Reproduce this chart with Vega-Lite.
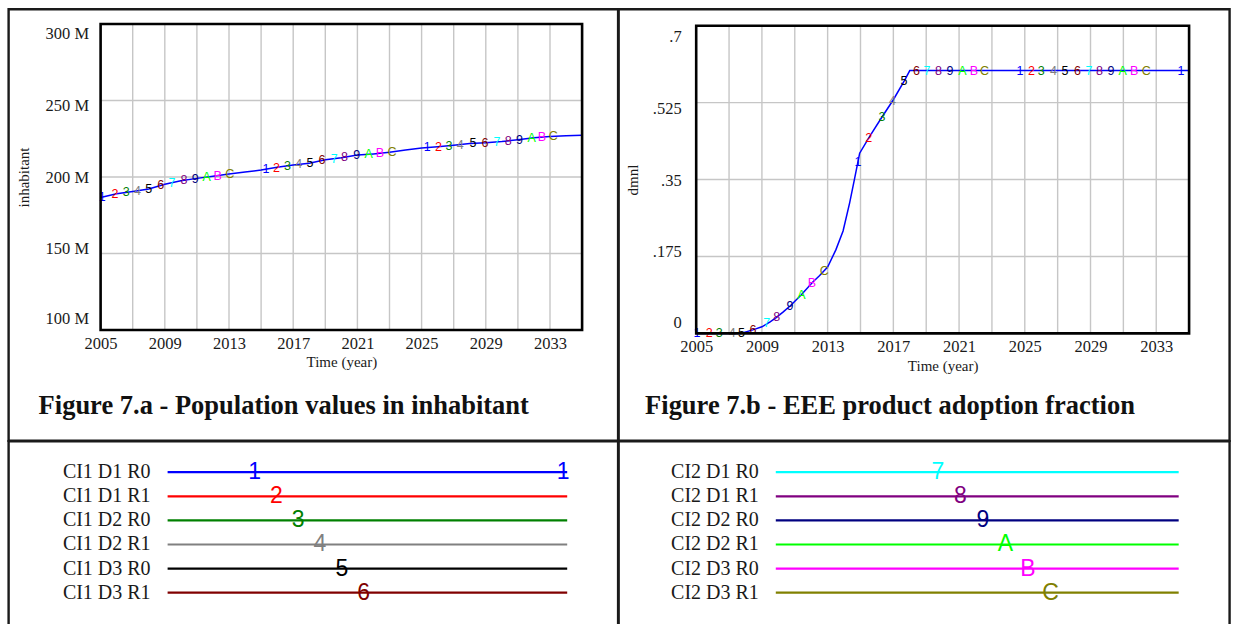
{
  "$schema": "https://vega.github.io/schema/vega-lite/v6.json",
  "background": "white",
  "padding": {"left": 6.6, "top": 7.2, "right": 4, "bottom": 0},
  "columns": 2,
  "spacing": 0,
  "bounds": "flush",
  "config": {
    "view": {"stroke": "#1a1a1a", "strokeWidth": 2.4},
    "font": "Liberation Serif",
    "axis": {
      "labelFont": "Liberation Serif", "labelFontSize": 16.5, "labelColor": "#1a1a1a",
      "titleFont": "Liberation Serif", "titleFontSize": 15, "titleFontWeight": "normal", "titleColor": "#1a1a1a",
      "grid": false, "ticks": false, "domain": false, "labelFlush": false, "labelOverlap": false
    }
  },
  "datasets": {
    "population": [
      {"year": 2005, "population": 186600000}, {"year": 2006, "population": 189000000},
      {"year": 2007, "population": 190500000}, {"year": 2008, "population": 192200000},
      {"year": 2009, "population": 195200000}, {"year": 2010, "population": 197600000},
      {"year": 2011, "population": 199100000}, {"year": 2012, "population": 200500000},
      {"year": 2013, "population": 202000000}, {"year": 2014, "population": 203300000},
      {"year": 2015, "population": 204500000}, {"year": 2016, "population": 206300000},
      {"year": 2017, "population": 207800000}, {"year": 2018, "population": 209000000},
      {"year": 2019, "population": 211200000}, {"year": 2020, "population": 212600000},
      {"year": 2021, "population": 214300000}, {"year": 2022, "population": 215100000},
      {"year": 2023, "population": 216100000}, {"year": 2024, "population": 217700000},
      {"year": 2025, "population": 219000000}, {"year": 2026, "population": 219800000},
      {"year": 2027, "population": 220800000}, {"year": 2028, "population": 221900000},
      {"year": 2029, "population": 222400000}, {"year": 2030, "population": 223200000},
      {"year": 2031, "population": 224300000}, {"year": 2032, "population": 225600000},
      {"year": 2033, "population": 226400000}, {"year": 2034, "population": 226900000},
      {"year": 2035, "population": 227300000}
    ],
    "populationMarkers": [
      {"code": "1", "year": 2005.1, "population": 186800000},
      {"code": "2", "year": 2005.9, "population": 188800000},
      {"code": "3", "year": 2006.6, "population": 189900000},
      {"code": "4", "year": 2007.3, "population": 191000000},
      {"code": "5", "year": 2008.0, "population": 192200000},
      {"code": "6", "year": 2008.75, "population": 194500000},
      {"code": "7", "year": 2009.45, "population": 196300000},
      {"code": "8", "year": 2010.2, "population": 197900000},
      {"code": "9", "year": 2010.9, "population": 198900000},
      {"code": "A", "year": 2011.6, "population": 199900000},
      {"code": "B", "year": 2012.3, "population": 200900000},
      {"code": "C", "year": 2013.05, "population": 202100000},
      {"code": "1", "year": 2015.3, "population": 205000000},
      {"code": "2", "year": 2015.95, "population": 206200000},
      {"code": "3", "year": 2016.65, "population": 207300000},
      {"code": "4", "year": 2017.35, "population": 208200000},
      {"code": "5", "year": 2018.05, "population": 209100000},
      {"code": "6", "year": 2018.8, "population": 210800000},
      {"code": "7", "year": 2019.55, "population": 212000000},
      {"code": "8", "year": 2020.2, "population": 212900000},
      {"code": "9", "year": 2020.95, "population": 214200000},
      {"code": "A", "year": 2021.7, "population": 214900000},
      {"code": "B", "year": 2022.4, "population": 215500000},
      {"code": "C", "year": 2023.15, "population": 216300000},
      {"code": "1", "year": 2025.35, "population": 219300000},
      {"code": "2", "year": 2026.05, "population": 219800000},
      {"code": "3", "year": 2026.7, "population": 220500000},
      {"code": "4", "year": 2027.4, "population": 221200000},
      {"code": "5", "year": 2028.2, "population": 222000000},
      {"code": "6", "year": 2028.95, "population": 222400000},
      {"code": "7", "year": 2029.7, "population": 222900000},
      {"code": "8", "year": 2030.4, "population": 223600000},
      {"code": "9", "year": 2031.1, "population": 224400000},
      {"code": "A", "year": 2031.85, "population": 225400000},
      {"code": "B", "year": 2032.5, "population": 226000000},
      {"code": "C", "year": 2033.2, "population": 226500000}
    ],
    "adoption": [
      {"year": 2005, "fraction": 0}, {"year": 2006, "fraction": 0}, {"year": 2007, "fraction": 0},
      {"year": 2007.7, "fraction": 0}, {"year": 2008.45, "fraction": 0.008}, {"year": 2009, "fraction": 0.015},
      {"year": 2009.5, "fraction": 0.026}, {"year": 2009.87, "fraction": 0.036}, {"year": 2010.3, "fraction": 0.049},
      {"year": 2010.73, "fraction": 0.063}, {"year": 2011.4, "fraction": 0.088}, {"year": 2012.07, "fraction": 0.116},
      {"year": 2012.5, "fraction": 0.131}, {"year": 2013.0, "fraction": 0.151}, {"year": 2013.5, "fraction": 0.19},
      {"year": 2013.94, "fraction": 0.233}, {"year": 2014.34, "fraction": 0.297}, {"year": 2014.65, "fraction": 0.354},
      {"year": 2014.95, "fraction": 0.41}, {"year": 2015.56, "fraction": 0.448}, {"year": 2016.27, "fraction": 0.49},
      {"year": 2016.99, "fraction": 0.531}, {"year": 2017.7, "fraction": 0.577}, {"year": 2018.0, "fraction": 0.598},
      {"year": 2035, "fraction": 0.598}
    ],
    "adoptionMarkers": [
      {"code": "1", "year": 2005.05, "fraction": 0},
      {"code": "2", "year": 2005.8, "fraction": 0},
      {"code": "3", "year": 2006.4, "fraction": 0},
      {"code": "4", "year": 2007.2, "fraction": 0},
      {"code": "5", "year": 2007.75, "fraction": 0},
      {"code": "6", "year": 2008.45, "fraction": 0.008},
      {"code": "7", "year": 2009.3, "fraction": 0.024},
      {"code": "8", "year": 2009.9, "fraction": 0.037},
      {"code": "9", "year": 2010.7, "fraction": 0.062},
      {"code": "A", "year": 2011.4, "fraction": 0.088},
      {"code": "B", "year": 2012.05, "fraction": 0.115},
      {"code": "C", "year": 2012.8, "fraction": 0.143},
      {"code": "1", "year": 2014.85, "fraction": 0.39},
      {"code": "2", "year": 2015.5, "fraction": 0.444},
      {"code": "3", "year": 2016.3, "fraction": 0.492},
      {"code": "4", "year": 2016.95, "fraction": 0.529},
      {"code": "5", "year": 2017.65, "fraction": 0.574},
      {"code": "6", "year": 2018.4, "fraction": 0.598},
      {"code": "7", "year": 2019.05, "fraction": 0.598},
      {"code": "8", "year": 2019.75, "fraction": 0.598},
      {"code": "9", "year": 2020.45, "fraction": 0.598},
      {"code": "A", "year": 2021.2, "fraction": 0.598},
      {"code": "B", "year": 2021.9, "fraction": 0.598},
      {"code": "C", "year": 2022.55, "fraction": 0.598},
      {"code": "1", "year": 2024.7, "fraction": 0.598},
      {"code": "2", "year": 2025.4, "fraction": 0.598},
      {"code": "3", "year": 2026.0, "fraction": 0.598},
      {"code": "4", "year": 2026.75, "fraction": 0.598},
      {"code": "5", "year": 2027.45, "fraction": 0.598},
      {"code": "6", "year": 2028.2, "fraction": 0.598},
      {"code": "7", "year": 2028.9, "fraction": 0.598},
      {"code": "8", "year": 2029.55, "fraction": 0.598},
      {"code": "9", "year": 2030.25, "fraction": 0.598},
      {"code": "A", "year": 2030.95, "fraction": 0.598},
      {"code": "B", "year": 2031.65, "fraction": 0.598},
      {"code": "C", "year": 2032.4, "fraction": 0.598},
      {"code": "1", "year": 2034.5, "fraction": 0.598}
    ],
    "gridYears": [
      {"year": 2007}, {"year": 2009}, {"year": 2011}, {"year": 2013}, {"year": 2015}, {"year": 2017}, {"year": 2019},
      {"year": 2021}, {"year": 2023}, {"year": 2025}, {"year": 2027}, {"year": 2029}, {"year": 2031}, {"year": 2033}
    ],
    "legendLeft": [
      {"series": "CI1 D1 R0", "code": "1", "n": 1},
      {"series": "CI1 D1 R1", "code": "2", "n": 2},
      {"series": "CI1 D2 R0", "code": "3", "n": 3},
      {"series": "CI1 D2 R1", "code": "4", "n": 4},
      {"series": "CI1 D3 R0", "code": "5", "n": 5},
      {"series": "CI1 D3 R1", "code": "6", "n": 6}
    ],
    "legendRight": [
      {"series": "CI2 D1 R0", "code": "7", "n": 7},
      {"series": "CI2 D1 R1", "code": "8", "n": 8},
      {"series": "CI2 D2 R0", "code": "9", "n": 9},
      {"series": "CI2 D2 R1", "code": "A", "n": 10},
      {"series": "CI2 D3 R0", "code": "B", "n": 11},
      {"series": "CI2 D3 R1", "code": "C", "n": 12}
    ]
  },
  "concat": [
    {
      "width": 609.5,
      "height": 431.5,
      "title": {"text": "Figure 7.a - Population values in inhabitant", "orient": "bottom", "anchor": "start", "frame": "group", "offset": -26.7, "dx": 30, "baseline": "alphabetic", "font": "Liberation Serif", "fontSize": 26.5, "fontWeight": "bold", "color": "#111111"},
      "layer": [
        {
          "data": {"name": "gridYears"},
          "mark": {"type": "rule", "color": "#c6c6c6", "strokeWidth": 1.4},
          "encoding": {
            "x": {"field": "year", "type": "quantitative"},
            "y": {"datum": 100000000, "type": "quantitative"}, "y2": {"datum": 300000000}
          }
        },
        {
          "data": {"values": [{"population": 150000000}, {"population": 200000000}, {"population": 250000000}]},
          "mark": {"type": "rule", "color": "#c6c6c6", "strokeWidth": 1.4},
          "encoding": {
            "y": {"field": "population", "type": "quantitative"},
            "x": {"datum": 2005, "type": "quantitative"}, "x2": {"datum": 2035}
          }
        },
        {
          "data": {"name": "population"},
          "mark": {"type": "line", "color": "#0000ff", "strokeWidth": 1.5},
          "encoding": {
            "x": {"field": "year", "type": "quantitative", "title": "Time (year)",
              "scale": {"domain": [2005, 2035], "range": [92, 573.5], "nice": false, "zero": false},
              "axis": {"values": [2005, 2007, 2009, 2011, 2013, 2015, 2017, 2019, 2021, 2023, 2025, 2027, 2029, 2031, 2033, 2035], "format": "d",
                "labelExpr": "(datum.value - 2005) % 4 == 0 && datum.value < 2035 ? datum.label : ''",
                "offset": -110.7, "labelPadding": 5.5, "titlePadding": 3}},
            "y": {"field": "population", "type": "quantitative", "title": "inhabitant",
              "scale": {"domain": [100000000, 300000000], "range": [320.8, 14.8], "nice": false, "zero": false},
              "axis": {"values": [100000000, 150000000, 200000000, 250000000, 300000000],
                "labelExpr": "format(datum.value / 1000000, 'd') + ' M'",
                "offset": -92, "labelPadding": 12, "titlePadding": 14,
                "labelOffset": {"condition": [
                  {"test": "datum.value >= 290000000", "value": 10},
                  {"test": "datum.value >= 240000000", "value": 5},
                  {"test": "datum.value <= 110000000", "value": -11},
                  {"test": "datum.value <= 160000000", "value": -5}], "value": 1}}}
          }
        },
        {
          "data": {"name": "populationMarkers"},
          "mark": {"type": "text", "font": "Liberation Sans", "fontSize": 12.5, "baseline": "middle", "align": "center"},
          "encoding": {
            "x": {"field": "year", "type": "quantitative"},
            "y": {"field": "population", "type": "quantitative"},
            "text": {"field": "code"},
            "color": {"field": "code", "type": "nominal", "legend": null,
              "scale": {"domain": ["1", "2", "3", "4", "5", "6", "7", "8", "9", "A", "B", "C"],
                "range": ["#0000ff", "#ff0000", "#008000", "#808080", "#000000", "#800000", "#00ffff", "#800080", "#000080", "#00ff00", "#ff00ff", "#808000"]}}
          }
        },
        {
          "data": {"values": [{}]},
          "mark": {"type": "rect", "filled": false, "color": "#000000", "strokeWidth": 2.6},
          "encoding": {
            "x": {"datum": 2005, "type": "quantitative"}, "x2": {"datum": 2035},
            "y": {"datum": 100000000, "type": "quantitative"}, "y2": {"datum": 300000000}
          }
        }
      ]
    },
    {
      "width": 611,
      "height": 431.5,
      "title": {"text": "Figure 7.b - EEE product adoption fraction", "orient": "bottom", "anchor": "start", "frame": "group", "offset": -26.7, "dx": 26.5, "baseline": "alphabetic", "font": "Liberation Serif", "fontSize": 26.5, "fontWeight": "bold", "color": "#111111"},
      "layer": [
        {
          "data": {"name": "gridYears"},
          "mark": {"type": "rule", "color": "#c6c6c6", "strokeWidth": 1.4},
          "encoding": {
            "x": {"field": "year", "type": "quantitative"},
            "y": {"datum": 0, "type": "quantitative"}, "y2": {"datum": 0.7}
          }
        },
        {
          "data": {"values": [{"fraction": 0.175}, {"fraction": 0.35}, {"fraction": 0.525}]},
          "mark": {"type": "rule", "color": "#c6c6c6", "strokeWidth": 1.4},
          "encoding": {
            "y": {"field": "fraction", "type": "quantitative"},
            "x": {"datum": 2005, "type": "quantitative"}, "x2": {"datum": 2035}
          }
        },
        {
          "data": {"name": "adoption"},
          "mark": {"type": "line", "color": "#0000ff", "strokeWidth": 1.5},
          "encoding": {
            "x": {"field": "year", "type": "quantitative", "title": "Time (year)",
              "scale": {"domain": [2005, 2035], "range": [77.6, 570.5], "nice": false, "zero": false},
              "axis": {"values": [2005, 2007, 2009, 2011, 2013, 2015, 2017, 2019, 2021, 2023, 2025, 2027, 2029, 2031, 2033, 2035], "format": "d",
                "labelExpr": "(datum.value - 2005) % 4 == 0 && datum.value < 2035 ? datum.label : ''",
                "offset": -107.3, "labelPadding": 5.5, "titlePadding": 3}},
            "y": {"field": "fraction", "type": "quantitative", "title": "dmnl",
              "scale": {"domain": [0, 0.7], "range": [324.2, 16.5], "nice": false, "zero": false},
              "axis": {"values": [0, 0.175, 0.35, 0.525, 0.7],
                "labelExpr": "datum.value == 0 ? '0' : replace(format(datum.value, '.3~f'), '0.', '.')",
                "offset": -77.6, "labelPadding": 15, "titlePadding": 12,
                "labelOffset": {"condition": [
                  {"test": "datum.value >= 0.69", "value": 11},
                  {"test": "datum.value >= 0.5", "value": 6},
                  {"test": "datum.value <= 0.01", "value": -11},
                  {"test": "datum.value <= 0.2", "value": -5}], "value": 1}}}
          }
        },
        {
          "data": {"name": "adoptionMarkers"},
          "mark": {"type": "text", "font": "Liberation Sans", "fontSize": 12.5, "baseline": "middle", "align": "center"},
          "encoding": {
            "x": {"field": "year", "type": "quantitative"},
            "y": {"field": "fraction", "type": "quantitative"},
            "text": {"field": "code"},
            "color": {"field": "code", "type": "nominal", "legend": null,
              "scale": {"domain": ["1", "2", "3", "4", "5", "6", "7", "8", "9", "A", "B", "C"],
                "range": ["#0000ff", "#ff0000", "#008000", "#808080", "#000000", "#800000", "#00ffff", "#800080", "#000080", "#00ff00", "#ff00ff", "#808000"]}}
          }
        },
        {
          "data": {"values": [{}]},
          "mark": {"type": "rect", "filled": false, "color": "#000000", "strokeWidth": 2.6},
          "encoding": {
            "x": {"datum": 2005, "type": "quantitative"}, "x2": {"datum": 2035},
            "y": {"datum": 0, "type": "quantitative"}, "y2": {"datum": 0.7}
          }
        }
      ]
    },
    {
      "width": 609.5,
      "height": 186,
      "data": {"name": "legendLeft"},
      "resolve": {"scale": {"x": "independent"}},
      "layer": [
        {
          "mark": {"type": "rule", "strokeWidth": 2.2},
          "encoding": {
            "x": {"datum": 0, "type": "quantitative", "scale": {"domain": [0, 1], "range": [159, 558.6]}, "axis": null},
            "x2": {"datum": 1},
            "y": {"field": "series", "type": "nominal", "scale": {"type": "point", "padding": 0, "domain": ["CI1 D1 R0", "CI1 D1 R1", "CI1 D2 R0", "CI1 D2 R1", "CI1 D3 R0", "CI1 D3 R1"], "range": [31, 151.5]}, "axis": null},
            "color": {"field": "code", "type": "nominal", "legend": null,
              "scale": {"domain": ["1", "2", "3", "4", "5", "6", "7", "8", "9", "A", "B", "C"],
                "range": ["#0000ff", "#ff0000", "#008000", "#808080", "#000000", "#800000", "#00ffff", "#800080", "#000080", "#00ff00", "#ff00ff", "#808000"]}}
          }
        },
        {
          "mark": {"type": "text", "align": "right", "baseline": "middle", "dx": -17, "font": "Liberation Serif", "fontSize": 20, "color": "#1a1a1a"},
          "encoding": {
            "x": {"datum": 0, "type": "quantitative", "scale": {"domain": [0, 1], "range": [159, 558.6]}, "axis": null},
            "y": {"field": "series", "type": "nominal", "scale": {"type": "point", "padding": 0, "domain": ["CI1 D1 R0", "CI1 D1 R1", "CI1 D2 R0", "CI1 D2 R1", "CI1 D3 R0", "CI1 D3 R1"], "range": [31, 151.5]}, "axis": null},
            "text": {"field": "series"}
          }
        },
        {
          "transform": [{"filter": "datum.code == '1'"}],
          "mark": {"type": "text", "align": "center", "baseline": "middle", "font": "Liberation Sans", "fontSize": 23},
          "encoding": {
            "x": {"datum": 0.99, "type": "quantitative", "scale": {"domain": [0, 1], "range": [159, 558.6]}, "axis": null},
            "y": {"field": "series", "type": "nominal", "scale": {"type": "point", "padding": 0, "domain": ["CI1 D1 R0", "CI1 D1 R1", "CI1 D2 R0", "CI1 D2 R1", "CI1 D3 R0", "CI1 D3 R1"], "range": [31, 151.5]}, "axis": null},
            "text": {"field": "code"},
            "color": {"field": "code", "type": "nominal", "legend": null,
              "scale": {"domain": ["1", "2", "3", "4", "5", "6", "7", "8", "9", "A", "B", "C"],
                "range": ["#0000ff", "#ff0000", "#008000", "#808080", "#000000", "#800000", "#00ffff", "#800080", "#000080", "#00ff00", "#ff00ff", "#808000"]}}
          }
        },
        {
          "mark": {"type": "text", "align": "center", "baseline": "middle", "font": "Liberation Sans", "fontSize": 23},
          "encoding": {
            "x": {"field": "n", "type": "quantitative", "scale": {"domain": [1, 6], "range": [246, 355]}, "axis": null},
            "y": {"field": "series", "type": "nominal", "scale": {"type": "point", "padding": 0, "domain": ["CI1 D1 R0", "CI1 D1 R1", "CI1 D2 R0", "CI1 D2 R1", "CI1 D3 R0", "CI1 D3 R1"], "range": [31, 151.5]}, "axis": null},
            "text": {"field": "code"},
            "color": {"field": "code", "type": "nominal", "legend": null,
              "scale": {"domain": ["1", "2", "3", "4", "5", "6", "7", "8", "9", "A", "B", "C"],
                "range": ["#0000ff", "#ff0000", "#008000", "#808080", "#000000", "#800000", "#00ffff", "#800080", "#000080", "#00ff00", "#ff00ff", "#808000"]}}
          }
        }
      ]
    },
    {
      "width": 611,
      "height": 186,
      "data": {"name": "legendRight"},
      "resolve": {"scale": {"x": "independent"}},
      "layer": [
        {
          "mark": {"type": "rule", "strokeWidth": 2.2},
          "encoding": {
            "x": {"datum": 0, "type": "quantitative", "scale": {"domain": [0, 1], "range": [157.2, 560.1]}, "axis": null},
            "x2": {"datum": 1},
            "y": {"field": "series", "type": "nominal", "scale": {"type": "point", "padding": 0, "domain": ["CI2 D1 R0", "CI2 D1 R1", "CI2 D2 R0", "CI2 D2 R1", "CI2 D3 R0", "CI2 D3 R1"], "range": [31, 151.5]}, "axis": null},
            "color": {"field": "code", "type": "nominal", "legend": null,
              "scale": {"domain": ["1", "2", "3", "4", "5", "6", "7", "8", "9", "A", "B", "C"],
                "range": ["#0000ff", "#ff0000", "#008000", "#808080", "#000000", "#800000", "#00ffff", "#800080", "#000080", "#00ff00", "#ff00ff", "#808000"]}}
          }
        },
        {
          "mark": {"type": "text", "align": "right", "baseline": "middle", "dx": -17, "font": "Liberation Serif", "fontSize": 20, "color": "#1a1a1a"},
          "encoding": {
            "x": {"datum": 0, "type": "quantitative", "scale": {"domain": [0, 1], "range": [157.2, 560.1]}, "axis": null},
            "y": {"field": "series", "type": "nominal", "scale": {"type": "point", "padding": 0, "domain": ["CI2 D1 R0", "CI2 D1 R1", "CI2 D2 R0", "CI2 D2 R1", "CI2 D3 R0", "CI2 D3 R1"], "range": [31, 151.5]}, "axis": null},
            "text": {"field": "series"}
          }
        },
        {
          "mark": {"type": "text", "align": "center", "baseline": "middle", "font": "Liberation Sans", "fontSize": 23},
          "encoding": {
            "x": {"field": "n", "type": "quantitative", "scale": {"domain": [7, 12], "range": [319.2, 432]}, "axis": null},
            "y": {"field": "series", "type": "nominal", "scale": {"type": "point", "padding": 0, "domain": ["CI2 D1 R0", "CI2 D1 R1", "CI2 D2 R0", "CI2 D2 R1", "CI2 D3 R0", "CI2 D3 R1"], "range": [31, 151.5]}, "axis": null},
            "text": {"field": "code"},
            "color": {"field": "code", "type": "nominal", "legend": null,
              "scale": {"domain": ["1", "2", "3", "4", "5", "6", "7", "8", "9", "A", "B", "C"],
                "range": ["#0000ff", "#ff0000", "#008000", "#808080", "#000000", "#800000", "#00ffff", "#800080", "#000080", "#00ff00", "#ff00ff", "#808000"]}}
          }
        }
      ]
    }
  ]
}
